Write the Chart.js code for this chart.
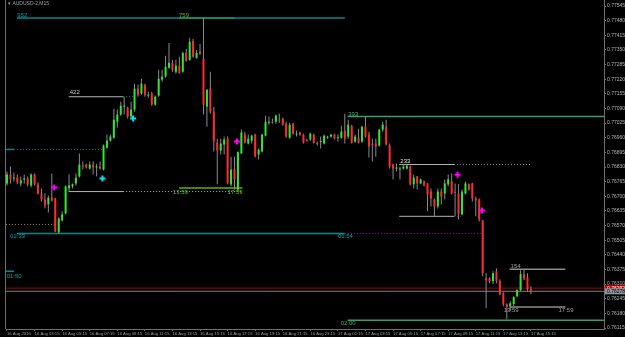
<!DOCTYPE html>
<html>
<head>
<meta charset="utf-8">
<script src="https://cdn.jsdelivr.net/npm/chart.js@4.4.0/dist/chart.umd.min.js"></script>
<style>
    html, body { margin: 0; padding: 0; background: #000; }
    canvas { display: block; background: #000; }
</style>
</head>
<body>
<canvas id="chart" width="625" height="337"></canvas>
<script>
// AUDUSD-2, M15 - una vela por barra, la primera es 16 Aug 01:15
const opens = [
    0.76757,0.76797,0.76779,0.76783,0.76757,0.76775,0.76779,0.76748,0.76797,0.76753,
    0.76712,0.76686,0.76664,0.76694,0.76690,0.76540,0.76593,0.76624,0.76735,0.76744,
    0.76757,0.76788,0.76836,0.76841,0.76823,0.76841,0.76828,0.76832,0.76819,0.76916,
    0.76947,0.76960,0.77031,0.77063,0.77098,0.77093,0.77054,0.77085,0.77178,0.77156,
    0.77196,0.77147,0.77156,0.77107,0.77147,0.77218,0.77231,0.77271,0.77293,0.77253,
    0.77280,0.77253,0.77337,0.77306,0.77390,0.77315,0.77342,0.77311,0.77098,0.77178,
    0.77076,0.76938,0.76903,0.76930,0.76956,0.76753,0.76823,0.76730,0.76890,0.76974,
    0.76934,0.76947,0.76974,0.76885,0.76899,0.76969,0.77027,0.77031,0.77031,0.77040,
    0.77045,0.77022,0.76960,0.77022,0.76974,0.76983,0.76974,0.76947,0.76952,0.76974,
    0.76934,0.76941,0.76934,0.76960,0.76965,0.76974,0.76958,0.76960,0.76992,0.76965,
    0.77013,0.76943,0.76960,0.76943,0.77009,0.76974,0.76930,0.76934,0.76925,0.76996,
    0.77009,0.76925,0.76841,0.76823,0.76819,0.76823,0.76823,0.76832,0.76753,0.76788,
    0.76757,0.76766,0.76757,0.76721,0.76686,0.76655,0.76721,0.76712,0.76753,0.76766,
    0.76717,0.76712,0.76620,0.76712,0.76753,0.76757,0.76690,0.76686,0.76593,0.76336,
    0.76336,0.76323,0.76367,0.76323,0.76270,0.76221,0.76212,0.76221,0.76256,0.76283,
    0.76354,0.76340,0.76287
];
const highs = [
    0.76810,0.76832,0.76806,0.76797,0.76788,0.76797,0.76788,0.76801,0.76801,0.76762,
    0.76735,0.76712,0.76703,0.76801,0.76694,0.76606,0.76633,0.76748,0.76797,0.76757,
    0.76801,0.76890,0.76854,0.76845,0.76854,0.76854,0.76845,0.76854,0.76930,0.76974,
    0.76974,0.77089,0.77085,0.77120,0.77142,0.77098,0.77120,0.77200,0.77196,0.77222,
    0.77200,0.77164,0.77164,0.77147,0.77262,0.77262,0.77324,0.77381,0.77306,0.77306,
    0.77320,0.77342,0.77355,0.77404,0.77399,0.77350,0.77377,0.77492,0.77176,0.77253,
    0.77098,0.76956,0.76956,0.76965,0.76965,0.76876,0.76876,0.76899,0.76996,0.76987,
    0.76974,0.76974,0.76978,0.76912,0.76978,0.77058,0.77054,0.77045,0.77063,0.77067,
    0.77049,0.77031,0.77027,0.77027,0.76992,0.76987,0.76978,0.76956,0.76983,0.76978,
    0.76943,0.76965,0.76974,0.76969,0.76976,0.76978,0.76974,0.77013,0.77067,0.77040,
    0.77018,0.76974,0.77000,0.77013,0.77054,0.76987,0.76956,0.76956,0.77000,0.77031,
    0.77040,0.76934,0.76845,0.76845,0.76832,0.76845,0.76841,0.76836,0.76797,0.76790,
    0.76779,0.76770,0.76759,0.76735,0.76690,0.76735,0.76735,0.76775,0.76797,0.76801,
    0.76757,0.76753,0.76730,0.76766,0.76757,0.76759,0.76699,0.76690,0.76595,0.76358,
    0.76340,0.76367,0.76380,0.76332,0.76274,0.76225,0.76234,0.76256,0.76287,0.76372,
    0.76376,0.76358,0.76301
];
const lows = [
    0.76748,0.76757,0.76766,0.76753,0.76744,0.76757,0.76744,0.76739,0.76748,0.76708,
    0.76677,0.76646,0.76628,0.76677,0.76540,0.76535,0.76588,0.76620,0.76721,0.76735,
    0.76748,0.76783,0.76819,0.76823,0.76819,0.76797,0.76788,0.76819,0.76814,0.76912,
    0.76943,0.76956,0.77004,0.77058,0.77063,0.77045,0.77045,0.77076,0.77142,0.77151,
    0.77142,0.77138,0.77102,0.77102,0.77142,0.77209,0.77226,0.77266,0.77253,0.77244,
    0.77244,0.77249,0.77297,0.77302,0.77315,0.77311,0.77328,0.77063,0.77009,0.77067,
    0.76899,0.76753,0.76885,0.76885,0.76753,0.76744,0.76730,0.76721,0.76888,0.76934,
    0.76930,0.76934,0.76872,0.76863,0.76894,0.76965,0.77018,0.77022,0.77022,0.77027,
    0.77013,0.76960,0.76956,0.76974,0.76965,0.76969,0.76934,0.76943,0.76947,0.76934,
    0.76925,0.76912,0.76930,0.76956,0.76960,0.76952,0.76943,0.76956,0.76934,0.76956,
    0.76934,0.76938,0.76934,0.76938,0.76960,0.76872,0.76854,0.76876,0.76921,0.76987,
    0.76925,0.76823,0.76775,0.76810,0.76775,0.76819,0.76819,0.76748,0.76735,0.76730,
    0.76753,0.76744,0.76633,0.76655,0.76611,0.76646,0.76664,0.76686,0.76744,0.76708,
    0.76611,0.76597,0.76615,0.76708,0.76726,0.76677,0.76611,0.76588,0.76345,0.76203,
    0.76314,0.76310,0.76314,0.76261,0.76212,0.76154,0.76190,0.76212,0.76252,0.76278,
    0.76327,0.76278,0.76265
];
const closes = [
    0.76797,0.76775,0.76783,0.76762,0.76770,0.76779,0.76753,0.76797,0.76753,0.76712,
    0.76686,0.76659,0.76694,0.76681,0.76544,0.76602,0.76620,0.76744,0.76748,0.76753,
    0.76783,0.76841,0.76832,0.76828,0.76841,0.76828,0.76832,0.76823,0.76925,0.76947,
    0.76965,0.77040,0.77063,0.77102,0.77102,0.77054,0.77085,0.77178,0.77151,0.77200,
    0.77151,0.77151,0.77107,0.77142,0.77222,0.77231,0.77275,0.77293,0.77262,0.77280,
    0.77249,0.77337,0.77302,0.77386,0.77320,0.77337,0.77333,0.77107,0.77173,0.77076,
    0.76943,0.76903,0.76934,0.76952,0.76757,0.76819,0.76775,0.76896,0.76983,0.76938,
    0.76956,0.76969,0.76876,0.76907,0.76974,0.77031,0.77031,0.77027,0.77058,0.77036,
    0.77018,0.76965,0.77018,0.76978,0.76976,0.76974,0.76938,0.76945,0.76978,0.76938,
    0.76932,0.76943,0.76969,0.76962,0.76974,0.76956,0.76960,0.76987,0.76956,0.77018,
    0.76938,0.76965,0.76938,0.77009,0.76965,0.76921,0.76928,0.76921,0.76996,0.77018,
    0.76930,0.76832,0.76823,0.76825,0.76823,0.76832,0.76836,0.76753,0.76783,0.76757,
    0.76775,0.76748,0.76708,0.76690,0.76655,0.76721,0.76699,0.76757,0.76775,0.76712,
    0.76715,0.76620,0.76721,0.76757,0.76730,0.76690,0.76681,0.76597,0.76358,0.76327,
    0.76323,0.76358,0.76323,0.76265,0.76221,0.76208,0.76225,0.76252,0.76283,0.76354,
    0.76336,0.76287,0.76278
];

// Etiquetas del eje de tiempo (barra en la que empieza cada una)
const xTickBars = [0, 8, 16, 24, 32, 40, 48, 56, 64, 72, 80, 88, 96, 104, 112, 120, 128, 136, 144, 152];
const xTickLabels = [
    '16 Aug 2016', '16 Aug 03:15', '16 Aug 05:15', '16 Aug 07:15', '16 Aug 09:15',
    '16 Aug 11:15', '16 Aug 13:15', '16 Aug 15:15', '16 Aug 17:15', '16 Aug 19:15',
    '16 Aug 21:15', '16 Aug 23:15', '17 Aug 01:15', '17 Aug 03:15', '17 Aug 05:15',
    '17 Aug 07:15', '17 Aug 09:15', '17 Aug 11:15', '17 Aug 13:15', '17 Aug 15:15'
];
const yTicks = [
    0.77545, 0.77480, 0.77415, 0.77350, 0.77285, 0.77220, 0.77155, 0.77090,
    0.77025, 0.76960, 0.76895, 0.76830, 0.76765, 0.76700, 0.76635, 0.76570,
    0.76505, 0.76440, 0.76375, 0.76310, 0.76245, 0.76180, 0.76115
];

const askPrice = 0.76292;
const bidPrice = 0.76278;

// Flechas del indicador
const buyMarkBars = [27.7, 36.6];
const buyMarkPrices = [0.76779, 0.77045];
const sellMarkBars = [13.7, 66.7, 130.7, 137.8];
const sellMarkPrices = [0.76739, 0.76943, 0.76796, 0.76637];

// Niveles horizontales dibujados por los indicadores
const levels = [
    { price: 0.77492, from: 2.9, to: 98, color: '#008b8b', width: 1.5 },
    { price: 0.77492, from: 49.9, to: 66, color: '#6ea400', width: 1.5 },
    { price: 0.76535, from: 2.9, to: 98, color: '#008b8b', width: 1.5 },
    { price: 0.76535, from: 98, to: 137.5, color: '#c400c4', width: 1, dash: [1, 2] },
    { price: 0.76908, from: -0.29, to: 2, color: '#008b8b', width: 1.5 },
    { price: 0.76908, from: 2, to: 28, color: '#008b8b', width: 1, dash: [1, 2] },
    { price: 0.76575, from: -0.29, to: 14.1, color: '#8a9c00', width: 1, dash: [1, 2] },
    { price: 0.77142, from: 17.9, to: 33.7, color: '#b4b4b4', width: 1 },
    { price: 0.77142, from: 33.7, to: 36.6, color: '#00a0a0', width: 1, dash: [1, 2] },
    { price: 0.76721, from: 17.9, to: 33.7, color: '#b4b4b4', width: 1 },
    { price: 0.76721, from: 33.7, to: 68.3, color: '#b4b4b4', width: 1, dash: [1, 2] },
    { price: 0.76737, from: 49.9, to: 68.3, color: '#5fb400', width: 1.5 },
    { price: 0.77054, from: 98.8, to: 173.2, color: '#3a9e6a', width: 1.5 },
    { price: 0.76150, from: 98.8, to: 173.2, color: '#3a9e6a', width: 1.5 },
    { price: 0.76841, from: 113.8, to: 129.7, color: '#b4b4b4', width: 1 },
    { price: 0.76841, from: 129.7, to: 151.9, color: '#8c8c8c', width: 1, dash: [1, 2] },
    { price: 0.76611, from: 113.8, to: 129.7, color: '#b4b4b4', width: 1 },
    { price: 0.76611, from: 129.7, to: 131.7, color: '#c400c4', width: 1, dash: [1, 2] },
    { price: 0.76376, from: 145.8, to: 162, color: '#8c8c8c', width: 1.5 },
    { price: 0.76208, from: 145.8, to: 162, color: '#8c8c8c', width: 1.5 },
    { price: 0.76367, from: -0.29, to: 2, color: '#008b8b', width: 1.5 },
    { price: askPrice, from: -0.29, to: 173.2, color: '#a00000', width: 1 },
    { price: bidPrice, from: -0.29, to: 173.2, color: '#77808a', width: 1 }
];

// Textos de los niveles
const noteTexts = ['952', '759', '422', '13:59', '17:59', '02:33', '01:54', '01:50', '393', '02:00', '233', '154', '13:59', '17:59'];
const noteBars = [3.0, 49.9, 18.2, 48.1, 64, 0.9, 96, -0.1, 99, 96.8, 114.1, 146.1, 144.1, 160];
const notePrices = [0.77502, 0.77502, 0.77160, 0.76719, 0.76719, 0.76522, 0.76522, 0.76345, 0.77064, 0.76137, 0.76854, 0.76390, 0.76193, 0.76193];
const noteColors = ['#00a0a0', '#7fae00', '#c8c8c8', '#5fc000', '#5fc000', '#00a8a8', '#00a8a8', '#00a8a8', '#3cb371', '#3cb371', '#e0e0e0', '#9a9a9a', '#9a9a9a', '#9a9a9a'];

const wickColor = '#858b93';
const upColor = '#2ee82e';
const downColor = '#ff2b2b';
const axisColor = '#6e6e6e';

const bars = opens.map((_, i) => i);

function levelDataset(lv) {
    return {
        type: 'line',
        data: [{ x: lv.from, y: lv.price }, { x: lv.to, y: lv.price }],
        borderColor: lv.color,
        borderWidth: lv.width,
        borderDash: lv.dash || [],
        pointRadius: 0,
        order: 5
    };
}

function markDataset(xs, ys, color) {
    return {
        type: 'line',
        data: xs.map((b, i) => ({ x: b, y: ys[i] })),
        showLine: false,
        pointStyle: 'cross',
        pointRadius: 3,
        pointBorderColor: color,
        pointBorderWidth: 2,
        order: 1
    };
}

const chartDecor = {
    id: 'chartDecor',
    beforeDraw(chart) {
        const c = chart.ctx;
        c.save();
        c.fillStyle = '#000';
        c.fillRect(0, 0, chart.width, chart.height);
        c.restore();
    },
    afterDatasetsDraw(chart) {
        const { ctx: c, chartArea: a, scales: { x, y } } = chart;
        c.save();
        // borde izquierdo y tramo superior del eje de precios
        c.strokeStyle = axisColor;
        c.lineWidth = 1;
        c.beginPath();
        c.moveTo(a.left - 0.5, 0);
        c.lineTo(a.left - 0.5, a.bottom);
        c.moveTo(a.right + 0.5, 0);
        c.lineTo(a.right + 0.5, a.top);
        c.stroke();

        c.font = '6px "Liberation Sans"';
        c.textAlign = 'left';
        c.textBaseline = 'middle';
        noteTexts.forEach((t, i) => {
            c.fillStyle = noteColors[i];
            c.fillText(t, x.getPixelForValue(noteBars[i]), y.getPixelForValue(notePrices[i]));
        });

        c.fillStyle = '#a0a0a0';
        c.font = '5px "Liberation Sans"';
        c.fillText('\u25BE AUDUSD-2,M15', a.left + 2, 4);

        // precios ask / bid en el eje
        const boxes = [[askPrice, '#c80000', '#ffffff'], [bidPrice, '#8c96a0', '#000000']];
        c.font = '5px "Liberation Sans"';
        boxes.forEach(([p, bg, fg]) => {
            const py = y.getPixelForValue(p);
            c.fillStyle = bg;
            c.fillRect(a.right + 1, py - 3, chart.width - a.right - 1, 6);
            c.fillStyle = fg;
            c.fillText(p.toFixed(5), a.right + 3, py);
        });
        c.restore();
    }
};

const ctx = document.getElementById('chart').getContext('2d');

new Chart(ctx, {
    type: 'bar',
    data: {
        datasets: [
            ...levels.map(levelDataset),
            {
                type: 'bar',
                data: bars.map(i => ({ x: i, y: [lows[i], highs[i]] })),
                backgroundColor: wickColor,
                barThickness: 1,
                inflateAmount: 0,
                grouped: false,
                order: 3
            },
            {
                type: 'bar',
                data: bars.map(i => ({ x: i, y: [opens[i], closes[i]] })),
                backgroundColor: bars.map(i => closes[i] >= opens[i] ? upColor : downColor),
                barThickness: 2,
                minBarLength: 1,
                inflateAmount: 0,
                grouped: false,
                order: 2
            },
            markDataset(buyMarkBars, buyMarkPrices, '#00e5ff'),
            markDataset(sellMarkBars, sellMarkPrices, '#ff00ff')
        ]
    },
    options: {
        responsive: false,
        animation: false,
        devicePixelRatio: 1,
        layout: { padding: { left: 2, top: 0, right: 0, bottom: 0 } },
        plugins: {
            legend: { display: false },
            tooltip: { enabled: false }
        },
        scales: {
            x: {
                type: 'linear',
                position: 'bottom',
                offset: false,
                min: -0.29,
                max: 173.2,
                afterBuildTicks: s => { s.ticks = xTickBars.map(v => ({ value: v })); },
                afterFit: s => { s.height = 8; },
                ticks: {
                    autoSkip: false,
                    maxRotation: 0,
                    align: 'start',
                    padding: 0,
                    color: '#9c9c9c',
                    font: { size: 4.2, family: '"Liberation Sans"' },
                    callback: v => xTickLabels[xTickBars.indexOf(v)]
                },
                grid: { drawOnChartArea: false, offset: false, tickLength: 2, color: axisColor },
                border: { color: axisColor }
            },
            y: {
                type: 'linear',
                position: 'right',
                // el área empieza 4 px más abajo por el margen de las etiquetas
                min: 0.761106,
                max: 0.77545,
                afterBuildTicks: s => { s.ticks = yTicks.map(v => ({ value: v })); },
                afterFit: s => { s.width = 21; },
                ticks: {
                    autoSkip: false,
                    padding: 1,
                    color: '#b4b4b4',
                    font: { size: 5, family: '"Liberation Sans"' },
                    callback: v => v.toFixed(5)
                },
                grid: { drawOnChartArea: false, tickLength: 2, color: axisColor },
                border: { color: axisColor }
            }
        }
    },
    plugins: [chartDecor]
});
</script>
</body>
</html>
